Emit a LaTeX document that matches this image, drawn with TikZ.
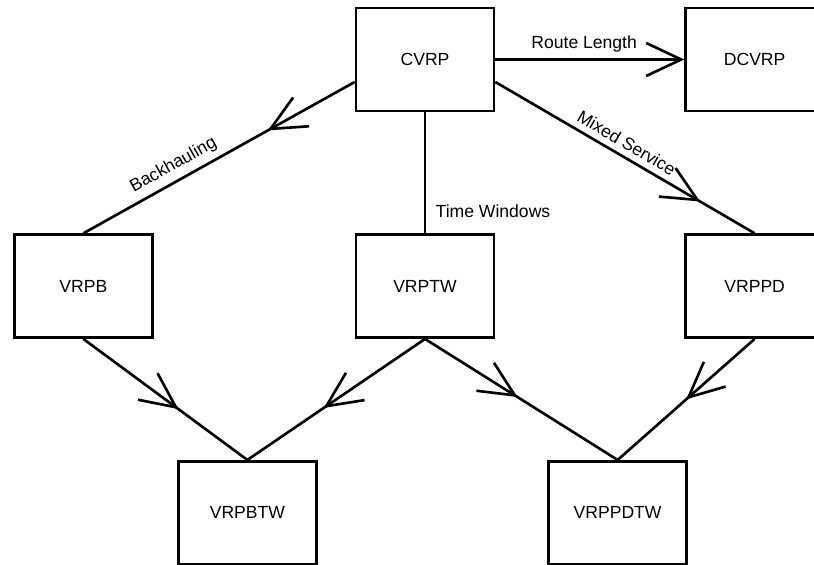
\documentclass[tikz,border=0pt]{standalone}
\usepackage{fontspec}
\setmainfont{Liberation Sans}
\usetikzlibrary{arrows.meta,positioning,decorations.markings}

\begin{document}
\begin{tikzpicture}[
box/.style={draw, line width=1.5pt, minimum width=2.76cm, minimum height=2.06cm, align=center},
link/.style={line width=1.5pt},
tipat/.style={postaction={decorate}, decoration={markings, mark=at position #1 with {\arrow[line width=1.5pt]{>}}}},
>={Straight Barb[length=7mm,width=6.6mm]}
]
\useasboundingbox (0,0) rectangle (16.28,-11.3);
\node[box] (cvrp) at (8.5,-1.19) {CVRP};
\node[box, right=3.78cm of cvrp] (dcvrp) {DCVRP};
\node[box, below=2.42cm of cvrp] (vrptw) {VRPTW};
\node[box, left=4.02cm of vrptw] (vrpb) {VRPB};
\node[box, right=3.78cm of vrptw] (vrppd) {VRPPD};
\node[box, below left=2.42cm and 0.74cm of vrptw] (vrpbtw) {VRPBTW};
\node[box, below right=2.42cm and 1.04cm of vrptw] (vrppdtw) {VRPPDTW};

\draw[link, ->] (cvrp) -- node[pos=0.47, above] {Route Length} (dcvrp);
\draw[link] (cvrp) -- node[pos=0.82, right, xshift=2pt] {Time Windows} (vrptw);
\draw[link, tipat=0.32] ([yshift=-0.45cm]cvrp.west) -- node[pos=0.64, sloped, above] {Backhauling} (vrpb.north);
\draw[link, tipat=0.79] ([yshift=-0.45cm]cvrp.east) -- node[pos=0.48, sloped, above] {Mixed Service} (vrppd.north);
\draw[link, tipat=0.58] (vrpb.south) -- (vrpbtw.north);
\draw[link, tipat=0.57] (vrptw.south) -- (vrpbtw.north);
\draw[link, tipat=0.48] (vrptw.south) -- (vrppdtw.north);
\draw[link, tipat=0.5] (vrppd.south) -- (vrppdtw.north);
\end{tikzpicture}
\end{document}
